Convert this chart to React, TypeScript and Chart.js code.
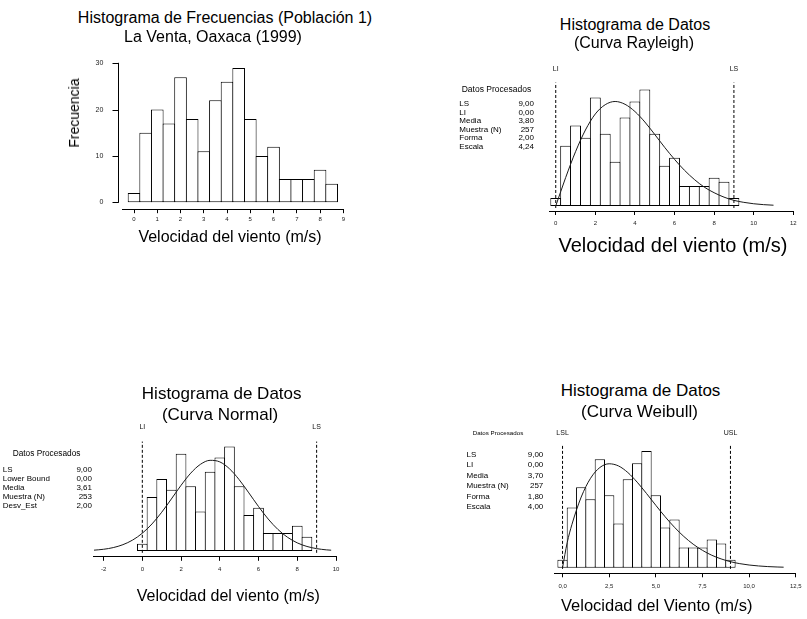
import React, { useEffect, useRef } from 'react';
import { Chart, registerables } from 'chart.js';

Chart.register(...registerables);

const FONT = "'Liberation Sans', Arial, Helvetica, sans-serif";
Chart.defaults.font.family = FONT;
Chart.defaults.color = '#000';

// ---------------- data ----------------
const bins18 = [0, 0.5, 1, 1.5, 2, 2.5, 3, 3.5, 4, 4.5, 5, 5.5, 6, 6.5, 7, 7.5, 8, 8.5];
const bins19 = [0, 0.5, 1, 1.5, 2, 2.5, 3, 3.5, 4, 4.5, 5, 5.5, 6, 6.5, 7, 7.5, 8, 8.5, 9];

const freqPoblacion1 = [2, 15, 20, 17, 27, 18, 11, 22, 26, 29, 18, 10, 12, 5, 5, 5, 7, 4];
const freqNormal = [2, 15, 20, 17, 27, 18, 11, 22, 26, 29, 18, 10, 12, 5, 5, 5, 7, 4];
const freqRayleigh = [2, 15, 20, 17, 27, 18, 11, 22, 26, 29, 18, 10, 12, 5, 5, 5, 7, 6, 2];
const freqWeibull = [2, 15, 20, 17, 27, 18, 11, 22, 26, 29, 18, 10, 12, 5, 5, 5, 7, 6, 2];

const rayleighCurveX = [0, 0.5, 1, 1.5, 2, 2.5, 3, 3.5, 4, 4.5, 5, 5.5, 6, 6.5, 7, 7.5, 8, 8.5, 9, 9.5, 10, 10.5, 11];
const rayleighCurveY = [0, 7.05, 13.5, 18.9, 22.9, 25.2, 26.0, 25.3, 23.5, 20.9, 17.8, 14.6, 11.6, 8.9, 6.6, 4.7, 3.3, 2.2, 1.4, 0.9, 0.55, 0.33, 0.19];

const normalCurveX = [-2.5, -2, -1.5, -1, -0.5, 0, 0.5, 1, 1.5, 2, 2.5, 3, 3.5, 4, 4.5, 5, 5.5, 6, 6.5, 7, 7.5, 8, 8.5, 9, 9.5, 9.75];
const normalCurveY = [0.24, 0.49, 0.96, 1.77, 3.05, 4.95, 7.53, 10.77, 14.46, 18.25, 21.63, 24.08, 25.19, 24.76, 22.85, 19.82, 16.15, 12.36, 8.88, 6.0, 3.81, 2.27, 1.27, 0.67, 0.33, 0.23];

const weibullCurveX = [0, 0.25, 0.5, 1, 1.5, 2, 2.5, 3, 3.5, 4, 4.5, 5, 5.5, 6, 6.5, 7, 7.5, 8, 8.5, 9, 9.5, 10, 10.5, 11, 11.5, 11.85];
const weibullCurveY = [0, 6.25, 10.7, 17.57, 22.24, 24.92, 25.85, 25.31, 23.67, 21.27, 18.46, 15.51, 12.66, 10.05, 7.77, 5.85, 4.31, 3.09, 2.18, 1.49, 1.0, 0.66, 0.43, 0.27, 0.17, 0.12];

const specLimits = [0, 9];
const limitLabelsLI = ['LI', 'LS'];
const limitLabelsLSL = ['LSL', 'USL'];

const ticksPob1X = [0, 1, 2, 3, 4, 5, 6, 7, 8, 9];
const ticksPob1Y = [0, 10, 20, 30];
const ticksRayleighX = [0, 2, 4, 6, 8, 10, 12];
const ticksNormalX = [-2, 0, 2, 4, 6, 8, 10];
const ticksWeibullX = [0, 2.5, 5, 7.5, 10, 12.5];

const statsRayleighLabels = ['LS', 'LI', 'Media', 'Muestra (N)', 'Forma', 'Escala'];
const statsRayleighValues = ['9,00', '0,00', '3,80', '257', '2,00', '4,24'];
const statsNormalLabels = ['LS', 'Lower Bound', 'Media', 'Muestra (N)', 'Desv_Est'];
const statsNormalValues = ['9,00', '0,00', '3,61', '253', '2,00'];
const statsWeibullLabels = ['LS', 'LI', 'Media', 'Muestra (N)', 'Forma', 'Escala'];
const statsWeibullValues = ['9,00', '0,00', '3,70', '257', '1,80', '4,00'];

// ---------------- chart builder ----------------
type HistParams = {
  bins: number[];
  freq: number[];
  curveX?: number[];
  curveY?: number[];
  xMin: number;
  xMax: number;
  xTicks: number[];
  xFmt: (v: number) => string;
  yMin: number;
  yMax: number;
  pad: { left: number; right: number; top: number; bottom: number };
  xHeight: number;
  tickFont: number;
  tickPadding: number;
  barPct: number;
  limits?: { x: number[]; labels: string[]; yBottom: number; yTop: number; labelY: number };
  yAxis?: { ticks: number[]; width: number; padding: number; gap: number; tickLen: number; font: number };
};

function makeDecor(p: HistParams) {
  return {
    id: 'histDecor',
    afterDraw(chart: any) {
      const ctx = chart.ctx;
      const xs = chart.scales.x;
      const ys = chart.scales.y;
      ctx.save();
      if (p.yAxis) {
        const ya = p.yAxis;
        const ax = Math.round(chart.chartArea.left - ya.gap) + 0.5;
        const y0 = ys.getPixelForValue(ya.ticks[0]);
        const y1 = ys.getPixelForValue(ya.ticks[ya.ticks.length - 1]);
        ctx.strokeStyle = '#000';
        ctx.lineWidth = 1;
        ctx.beginPath();
        ctx.moveTo(ax, y0 + 0.5);
        ctx.lineTo(ax, y1 - 0.5);
        ya.ticks.forEach((v) => {
          const py = Math.round(ys.getPixelForValue(v)) + 0.5;
          ctx.moveTo(ax, py);
          ctx.lineTo(ax - ya.tickLen, py);
        });
        ctx.stroke();
      }
      if (p.limits) {
        const lm = p.limits;
        ctx.font = `7px ${FONT}`;
        ctx.fillStyle = '#111';
        ctx.textAlign = 'center';
        ctx.textBaseline = 'middle';
        lm.x.forEach((lx, i) => {
          ctx.fillText(lm.labels[i], xs.getPixelForValue(lx), ys.getPixelForValue(lm.labelY));
        });
      }
      ctx.restore();
    },
  };
}

function buildConfig(p: HistParams): any {
  const datasets: any[] = [];
  if (p.curveX && p.curveY) {
    const cy = p.curveY;
    datasets.push({
      type: 'line',
      data: p.curveX.map((x, i) => ({ x, y: cy[i] })),
      borderColor: '#1a1a1a',
      borderWidth: 1,
      pointRadius: 0,
      fill: false,
      cubicInterpolationMode: 'monotone',
      order: 0,
    });
  }
  if (p.limits) {
    const lm = p.limits;
    lm.x.forEach((lx) => {
      datasets.push({
        type: 'line',
        data: [
          { x: lx, y: lm.yBottom },
          { x: lx, y: lm.yTop },
        ],
        borderColor: '#000',
        borderWidth: 1,
        borderDash: [3, 2],
        pointRadius: 0,
        fill: false,
        order: 0,
      });
    });
  }
  datasets.push({
    type: 'bar',
    data: p.bins.map((x, i) => ({ x, y: p.freq[i] })),
    backgroundColor: '#ffffff',
    borderColor: '#000000',
    borderWidth: 1,
    borderSkipped: false,
    barPercentage: p.barPct,
    categoryPercentage: 1,
    order: 1,
  });

  const xTicks = p.xTicks;
  const scales: any = {
    x: {
      type: 'linear',
      min: p.xMin,
      max: p.xMax,
      offset: false,
      grid: {
        display: true,
        drawOnChartArea: false,
        drawTicks: true,
        tickLength: 4,
        color: '#000',
        lineWidth: 1,
        offset: false,
      },
      border: { display: true, color: '#000', width: 1 },
      ticks: {
        font: { size: p.tickFont, family: FONT },
        color: '#222',
        padding: p.tickPadding,
        autoSkip: false,
        maxRotation: 0,
        minRotation: 0,
        callback: (v: any) => p.xFmt(Number(v)),
      },
      afterBuildTicks: (scale: any) => {
        scale.ticks = xTicks.map((v) => ({ value: v }));
      },
      afterFit: (scale: any) => {
        scale.height = p.xHeight;
      },
    },
  };
  if (p.yAxis) {
    const ya = p.yAxis;
    scales.y = {
      type: 'linear',
      min: p.yMin,
      max: p.yMax,
      display: true,
      grid: { display: false, drawTicks: false },
      border: { display: false },
      ticks: {
        font: { size: ya.font, family: FONT },
        color: '#222',
        padding: ya.padding,
        callback: (v: any) => String(v),
      },
      afterBuildTicks: (scale: any) => {
        scale.ticks = ya.ticks.map((v) => ({ value: v }));
      },
      afterFit: (scale: any) => {
        scale.width = ya.width;
      },
    };
  } else {
    scales.y = { type: 'linear', min: p.yMin, max: p.yMax, display: false };
  }

  return {
    type: 'bar',
    data: { datasets },
    options: {
      animation: false,
      responsive: false,
      devicePixelRatio: 1,
      events: [],
      layout: { padding: p.pad, autoPadding: false },
      plugins: { legend: { display: false }, tooltip: { enabled: false }, title: { display: false } },
      scales,
    },
    plugins: [makeDecor(p)],
  };
}

function HistCanvas(props: { left: number; top: number; width: number; height: number; params: HistParams }) {
  const ref = useRef<HTMLCanvasElement>(null);
  useEffect(() => {
    if (!ref.current) return;
    const chart = new Chart(ref.current, buildConfig(props.params));
    return () => chart.destroy();
  }, []);
  return (
    <canvas
      ref={ref}
      width={props.width}
      height={props.height}
      style={{ position: 'absolute', left: props.left, top: props.top, width: props.width, height: props.height, display: 'block' }}
    />
  );
}

function Txt(props: { x: number; y: number; size: number; align?: 'left' | 'center' | 'right'; rotate?: boolean; children: any }) {
  const align = props.align || 'center';
  const tx = align === 'center' ? '-50%' : align === 'right' ? '-100%' : '0';
  return (
    <div
      style={{
        position: 'absolute',
        left: props.x,
        top: props.y,
        fontSize: props.size,
        lineHeight: 1,
        fontFamily: FONT,
        whiteSpace: 'nowrap',
        color: '#000',
        transform: `translate(${tx},-50%)${props.rotate ? ' rotate(-90deg)' : ''}`,
      }}
    >
      {props.children}
    </div>
  );
}

function Stats(props: {
  title: string;
  titleX: number;
  titleY: number;
  titleSize: number;
  labels: string[];
  values: string[];
  labelX: number;
  valueX: number;
  rowY: number;
  rowStep: number;
  size: number;
}) {
  return (
    <>
      <Txt x={props.titleX} y={props.titleY} size={props.titleSize} align="left">
        {props.title}
      </Txt>
      {props.labels.map((l, i) => (
        <Txt key={'l' + i} x={props.labelX} y={props.rowY + i * props.rowStep} size={props.size} align="left">
          {l}
        </Txt>
      ))}
      {props.values.map((v, i) => (
        <Txt key={'v' + i} x={props.valueX} y={props.rowY + i * props.rowStep} size={props.size} align="right">
          {v}
        </Txt>
      ))}
    </>
  );
}

const fmtInt = (v: number) => String(Math.round(v));
const fmtComma = (v: number) => v.toFixed(1).replace('.', ',');

const pob1Params: HistParams = {
  bins: bins18,
  freq: freqPoblacion1,
  xMin: -0.5,
  xMax: 9,
  xTicks: ticksPob1X,
  xFmt: fmtInt,
  yMin: -1.5,
  yMax: 30,
  pad: { left: 32.4, right: 56.7, top: 17.3, bottom: 25.8 },
  xHeight: 25,
  tickFont: 6,
  tickPadding: 3,
  barPct: 1.086,
  yAxis: { ticks: ticksPob1Y, width: 30, padding: 19.1, gap: 4.7, tickLen: 6, font: 7 },
};

const rayleighParams: HistParams = {
  bins: bins19,
  freq: freqRayleigh,
  curveX: rayleighCurveX,
  curveY: rayleighCurveY,
  xMin: -0.3,
  xMax: 12,
  xTicks: ticksRayleighX,
  xFmt: fmtInt,
  yMin: -1.25,
  yMax: 35,
  pad: { left: 109.8, right: 13.7, top: 15.3, bottom: 19 },
  xHeight: 20,
  tickFont: 6,
  tickPadding: 5,
  barPct: 1.101,
  limits: { x: specLimits, labels: limitLabelsLI, yBottom: -0.5, yTop: 30.7, labelY: 34.1 },
};

const normalParams: HistParams = {
  bins: bins18,
  freq: freqNormal,
  curveX: normalCurveX,
  curveY: normalCurveY,
  xMin: -2.5,
  xMax: 10,
  xTicks: ticksNormalX,
  xFmt: fmtInt,
  yMin: -1.6,
  yMax: 36,
  pad: { left: 33.9, right: 24, top: 21.4, bottom: 13.2 },
  xHeight: 20,
  tickFont: 6,
  tickPadding: 4.5,
  barPct: 1.103,
  limits: { x: specLimits, labels: limitLabelsLI, yBottom: -0.5, yTop: 30.4, labelY: 34.5 },
};

const weibullParams: HistParams = {
  bins: bins19,
  freq: freqWeibull,
  curveX: weibullCurveX,
  curveY: weibullCurveY,
  xMin: -0.45,
  xMax: 12.5,
  xTicks: ticksWeibullX,
  xFmt: fmtComma,
  yMin: -1.4,
  yMax: 35,
  pad: { left: 54.15, right: 6.8, top: 27, bottom: 6.7 },
  xHeight: 20,
  tickFont: 6,
  tickPadding: 5.4,
  barPct: 1.105,
  limits: { x: specLimits, labels: limitLabelsLSL, yBottom: -0.3, yTop: 30.3, labelY: 33.5 },
};

export default function App() {
  return (
    <div
      style={{
        position: 'absolute',
        left: 0,
        top: 0,
        width: 807,
        height: 619,
        background: '#fff',
        overflow: 'hidden',
        fontFamily: FONT,
      }}
    >
      <HistCanvas left={60} top={40} width={340} height={220} params={pob1Params} />
      <HistCanvas left={440} top={50} width={367} height={200} params={rayleighParams} />
      <HistCanvas left={60} top={400} width={300} height={190} params={normalParams} />
      <HistCanvas left={500} top={400} width={307} height={200} params={weibullParams} />

      {/* Panel 1 */}
      <Txt x={225} y={18} size={16}>Histograma de Frecuencias (Población 1)</Txt>
      <Txt x={213} y={37} size={16}>La Venta, Oaxaca (1999)</Txt>
      <Txt x={74} y={112.5} size={14} rotate>Frecuencia</Txt>
      <Txt x={230} y={237} size={16}>Velocidad del viento (m/s)</Txt>

      {/* Panel 2 */}
      <Txt x={635} y={25} size={16}>Histograma de Datos</Txt>
      <Txt x={634} y={43} size={16}>(Curva Rayleigh)</Txt>
      <Txt x={673} y={245} size={20}>Velocidad del viento (m/s)</Txt>
      <Stats
        title="Datos Procesados"
        titleX={461.7}
        titleY={89}
        titleSize={8.5}
        labels={statsRayleighLabels}
        values={statsRayleighValues}
        labelX={459.3}
        valueX={534}
        rowY={104}
        rowStep={8.5}
        size={8}
      />

      {/* Panel 3 */}
      <Txt x={221.7} y={393} size={17}>Histograma de Datos</Txt>
      <Txt x={220} y={414} size={17}>(Curva Normal)</Txt>
      <Txt x={228.3} y={596} size={16}>Velocidad del viento (m/s)</Txt>
      <Stats
        title="Datos Procesados"
        titleX={12.7}
        titleY={453.3}
        titleSize={8.3}
        labels={statsNormalLabels}
        values={statsNormalValues}
        labelX={2.7}
        valueX={92}
        rowY={469.5}
        rowStep={9}
        size={8}
      />

      {/* Panel 4 */}
      <Txt x={640.5} y={390} size={17}>Histograma de Datos</Txt>
      <Txt x={639.5} y={410.7} size={17}>(Curva Weibull)</Txt>
      <Txt x={656.7} y={605} size={16.5}>Velocidad del Viento (m/s)</Txt>
      <Stats
        title="Datos Procesados"
        titleX={472.7}
        titleY={432.5}
        titleSize={6.2}
        labels={statsWeibullLabels}
        values={statsWeibullValues}
        labelX={466.5}
        valueX={543.3}
        rowY={455}
        rowStep={10.4}
        size={8}
      />
    </div>
  );
}
